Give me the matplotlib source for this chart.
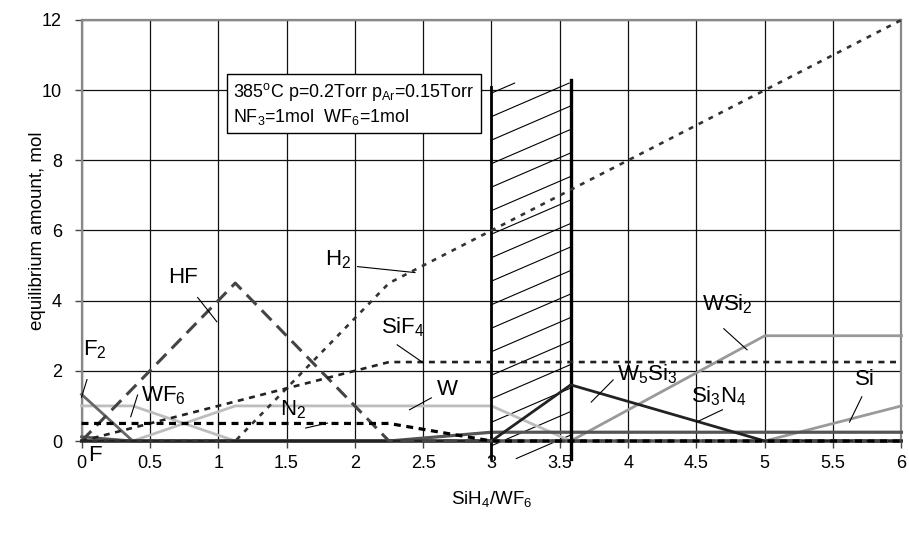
import matplotlib
matplotlib.use("Agg")
import matplotlib.pyplot as plt
import numpy as np

plt.rcParams['font.family'] = ['Liberation Sans', 'DejaVu Sans']
plt.rcParams['mathtext.fontset'] = 'custom'
plt.rcParams['mathtext.rm'] = 'Liberation Sans'
plt.rcParams['mathtext.it'] = 'Liberation Sans:italic'
plt.rcParams['lines.scale_dashes'] = False

# SiH4/WF6 ratio at which the equilibrium was evaluated
ratio = [0, 0.375, 1.125, 2.25, 3, 3.58, 5, 6]

# equilibrium amounts, mol
hf = [0, 1.5, 4.5, 0, 0, 0, 0, 0]
h2 = [0, 0, 0, 4.5, 6, 7.16, 10, 12]
sif4 = [0, 0.375, 1.125, 2.25, 2.25, 2.25, 2.25, 2.25]
n2 = [0.5, 0.5, 0.5, 0.5, 0, 0, 0, 0]
wf6 = [1, 1, 0, 0, 0, 0, 0, 0]
w = [0, 0, 1, 1, 1, 0, 0, 0]
f2 = [1.33, 0, 0, 0, 0, 0, 0, 0]
f = [0.12, 0, 0, 0, 0, 0, 0, 0]
w5si3 = [0, 0, 0, 0, 0, 1.6, 0, 0]
si3n4 = [0, 0, 0, 0, 0.25, 0.25, 0.25, 0.25]
wsi2 = [0, 0, 0, 0, 0, 0, 3, 3]
si = [0, 0, 0, 0, 0, 0, 0, 1]

# hatched band
band_lo, band_hi = 3.0, 3.58
band_bottom, band_top = -0.5, 10.2

xticks = np.arange(0, 6.01, 0.5)
yticks = np.arange(0, 12.01, 2)

fig = plt.figure(figsize=(9.09, 5.33), dpi=100)
ax = fig.add_axes([0.0897, 0.1726, 0.902, 0.790])

ax.set_xlim(0, 6)
ax.set_ylim(0, 12)
ax.set_xticks(xticks)
ax.set_xticklabels([f"{t:g}" for t in xticks])
ax.set_yticks(yticks)
ax.grid(True, color='#111111', lw=0.9)
ax.set_axisbelow(True)
ax.tick_params(direction='out', length=5, width=1, color='#444444', labelsize=13)
ax.tick_params(axis='y', pad=9)
ax.tick_params(axis='x', pad=5)
for side in ['left', 'top', 'right']:
    ax.spines[side].set_color('#888888')
    ax.spines[side].set_linewidth(1.6)
ax.spines['bottom'].set_color('#444444')
ax.spines['bottom'].set_linewidth(1.4)

# hatched band between the two thick lines
slope = 1.68
step = 0.67
for c in np.arange(band_bottom - slope * (band_hi - band_lo), band_top, step):
    xa = max(band_lo, band_lo + (band_bottom - c) / slope)
    xb = min(band_hi, band_lo + (band_top - c) / slope)
    if xb > xa:
        ax.plot([xa, xb], [c + slope * (xa - band_lo), c + slope * (xb - band_lo)],
                color='black', lw=0.8, clip_on=False, zorder=2)
ax.plot([band_lo, band_lo], [band_bottom, 10.1], color='black', lw=2, clip_on=False, zorder=4)
ax.plot([band_hi, band_hi], [band_bottom, 10.3], color='black', lw=2.4, clip_on=False, zorder=4)

kw = dict(clip_on=False)
ax.plot(ratio, wf6, color='#bdbdbd', lw=2, zorder=3, **kw)
ax.plot(ratio, w, color='#bdbdbd', lw=2, zorder=3, **kw)
ax.plot(ratio, wsi2, color='#999999', lw=2, zorder=3, **kw)
ax.plot(ratio, si, color='#9a9a9a', lw=2, zorder=3, **kw)
ax.plot(ratio, f2, color='#666666', lw=2, zorder=3, **kw)
ax.plot(ratio, f, color='#555555', lw=2, zorder=3, **kw)
ax.plot(ratio, si3n4, color='#555555', lw=2.3, zorder=3, **kw)
ax.plot(ratio, w5si3, color='#222222', lw=2, zorder=4, **kw)
ax.plot(ratio, hf, color='#444444', lw=2.2, dashes=(10, 5.5), zorder=5, **kw)
ax.plot(ratio, h2, color='#333333', lw=1.9, dashes=(3.5, 4.5), zorder=5, **kw)
ax.plot(ratio, sif4, color='#222222', lw=1.9, dashes=(4.3, 4), zorder=5, **kw)
ax.plot(ratio, n2, color='black', lw=2.3, dashes=(5, 4), zorder=5, **kw)

# labels with leader lines: text, text pos, leader start, leader end
labels = [
    ("F$_2$", (0.1, 2.6), (0.04, 1.75), (0.0, 1.25)),
    ("WF$_6$", (0.6, 1.29), (0.41, 1.31), (0.36, 0.69)),
    ("HF", (0.74, 4.66), (0.85, 4.09), (0.99, 3.4)),
    ("H$_2$", (1.88, 5.17), (2.02, 4.97), (2.44, 4.8)),
    ("SiF$_4$", (2.35, 3.23), (2.31, 2.74), (2.5, 2.23)),
    ("N$_2$", (1.55, 0.89), (1.64, 0.37), (1.8, 0.51)),
    ("W", (2.68, 1.46), (2.56, 1.23), (2.4, 0.89)),
    ("W$_5$Si$_3$", (4.14, 1.91), (3.89, 1.74), (3.73, 1.11)),
    ("Si$_3$N$_4$", (4.66, 1.29), (4.69, 0.89), (4.5, 0.54)),
    ("WSi$_2$", (4.73, 3.89), (4.7, 3.2), (4.87, 2.6)),
    ("Si", (5.73, 1.74), (5.71, 1.26), (5.62, 0.54)),
]
for txt, pos, p0, p1 in labels:
    ax.text(pos[0], pos[1], txt, fontsize=16, ha='center', va='center', zorder=6)
    ax.plot([p0[0], p1[0]], [p0[1], p1[1]], color='black', lw=0.8, zorder=6, **kw)
ax.text(0.1, -0.4, "F", fontsize=16, ha='center', va='center', zorder=6)

ax.text(1.11, 9.6,
        "385$^{\\mathrm{o}}$C p=0.2Torr p$_{\\mathrm{Ar}}$=0.15Torr\n"
        "NF$_3$=1mol  WF$_6$=1mol",
        fontsize=12.9, ha='left', va='center', linespacing=1.25, zorder=7,
        bbox=dict(boxstyle='square,pad=0.35', fc='white', ec='black', lw=1))

ax.set_ylabel("equilibrium amount, mol", fontsize=13.5)
ax.yaxis.set_label_coords(-0.043, 0.5)
ax.set_xlabel("SiH$_4$/WF$_6$", fontsize=13.5, labelpad=12)

fig.savefig("out.png", dpi=100)
